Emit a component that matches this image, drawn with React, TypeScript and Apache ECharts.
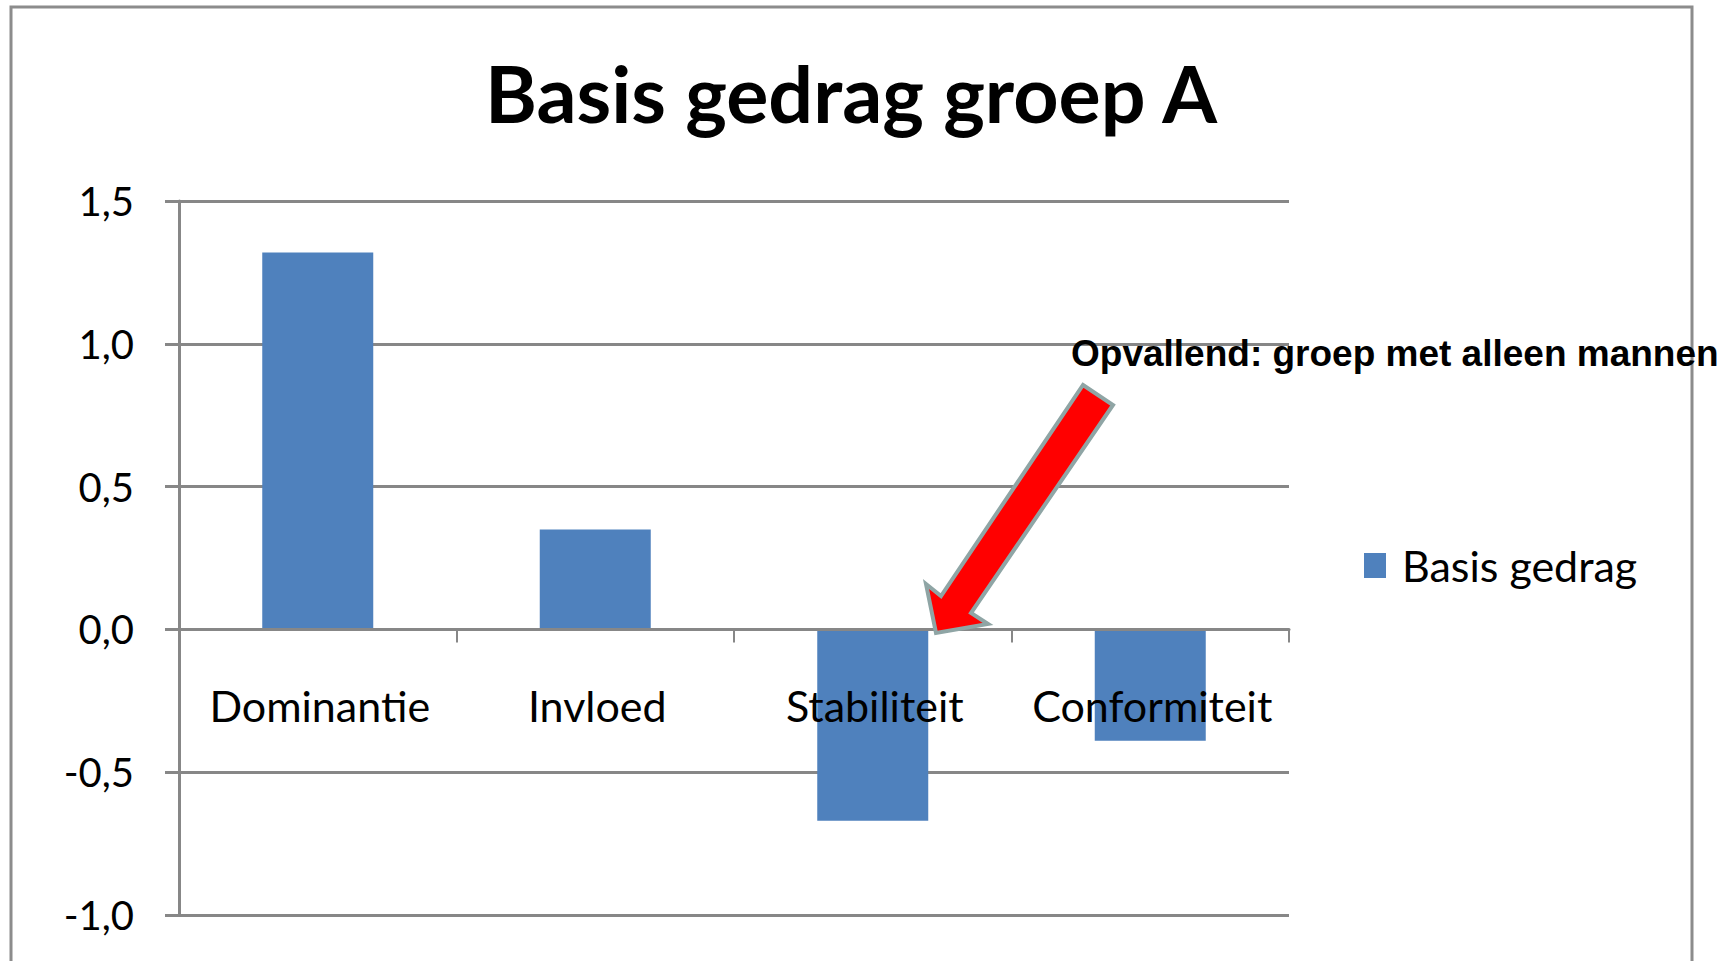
import React, { useEffect, useRef } from "react";
import * as echarts from "echarts";

const categories = ["Dominantie", "Invloed", "Stabiliteit", "Conformiteit"];
const basisGedrag = [1.32, 0.35, -0.67, -0.39];
const seriesName = "Basis gedrag";
const titleText = "Basis gedrag groep A";
const noteText = "Opvallend: groep met alleen mannen";
const yMin = -1;
const yMax = 1.5;
const yStep = 0.5;

const FONT = "Lato";
const GRAY = "#878787";

export default function App() {
  const ref = useRef<HTMLDivElement>(null);
  useEffect(() => {
    if (!ref.current) return;
    const chart = echarts.init(ref.current, null, { renderer: "svg" });
    chart.setOption({
      animation: false,
      backgroundColor: "#ffffff",
      title: {
        text: titleText,
        left: 480,
        top: 48,
        textStyle: { fontFamily: FONT, fontWeight: "bold", fontSize: 79, color: "#000" },
      },
      legend: {
        data: [seriesName],
        left: 1359,
        top: 539,
        icon: "rect",
        itemWidth: 22,
        itemHeight: 25,
        textStyle: { fontFamily: FONT, fontSize: 43, color: "#000", padding: [0, 0, 0, 11] },
      },
      grid: {
        left: 179,
        right: 440,
        top: 201,
        bottom: 46,
        containLabel: false,
        outerBoundsMode: "none",
      },
      xAxis: {
        type: "category",
        data: categories,
        axisLine: { onZero: true, lineStyle: { color: GRAY, width: 3 } },
        axisTick: { show: true, interval: 0, length: 13, lineStyle: { color: GRAY, width: 2 } },
        axisLabel: { show: false },
        z: 5,
      },
      yAxis: {
        type: "value",
        min: yMin,
        max: yMax,
        interval: yStep,
        axisLine: { show: true, lineStyle: { color: GRAY, width: 3 } },
        axisTick: { show: true, length: 14, lineStyle: { color: GRAY, width: 3 } },
        splitLine: { show: true, lineStyle: { color: GRAY, width: 3 } },
        axisLabel: {
          fontFamily: FONT,
          fontSize: 40,
          color: "#000",
          margin: 45,
          formatter: (v: number) => v.toFixed(1).replace(".", ","),
        },
      },
      series: [
        {
          name: seriesName,
          type: "bar",
          data: basisGedrag,
          barCategoryGap: "60%",
          itemStyle: { color: "#4F81BD" },
          z: 3,
        },
      ],
    });

    // Category labels placed just below the zero line (the axis sits on zero)
    const labelGraphics = categories.map((c, i) => {
      const [px, py] = chart.convertToPixel({ gridIndex: 0 }, [i, 0]) as number[];
      return {
        type: "text",
        x: px + 2,
        y: py + 76,
        style: {
          text: c,
          fontFamily: FONT,
          fontSize: 43,
          fill: "#000",
          align: "center",
          verticalAlign: "middle",
        },
        z: 50,
      };
    });

    chart.setOption({
      graphic: [
        ...labelGraphics,
        {
          type: "rect",
          shape: { x: 11, y: 7, width: 1681, height: 1000 },
          style: { fill: "none", stroke: "#8c8c8c", lineWidth: 3 },
          silent: true,
          z: 100,
        },
        {
          type: "polygon",
          shape: {
            points: [
              [1083, 385],
              [1113, 405],
              [971, 613],
              [988, 624],
              [936, 633],
              [926, 584],
              [941, 596],
            ],
          },
          style: { fill: "#ff0000", stroke: "#8fa5a5", lineWidth: 4 },
          z: 100,
        },
        {
          type: "text",
          x: 1071,
          y: 353,
          style: {
            text: noteText,
            fontFamily: "Liberation Sans",
            fontWeight: "bold",
            fontSize: 37,
            fill: "#000",
            verticalAlign: "middle",
          },
          z: 101,
        },
      ],
    });
    return () => chart.dispose();
  }, []);
  return (
    <div
      ref={ref}
      style={{ position: "fixed", left: 0, top: 0, width: 1729, height: 961 }}
    />
  );
}
